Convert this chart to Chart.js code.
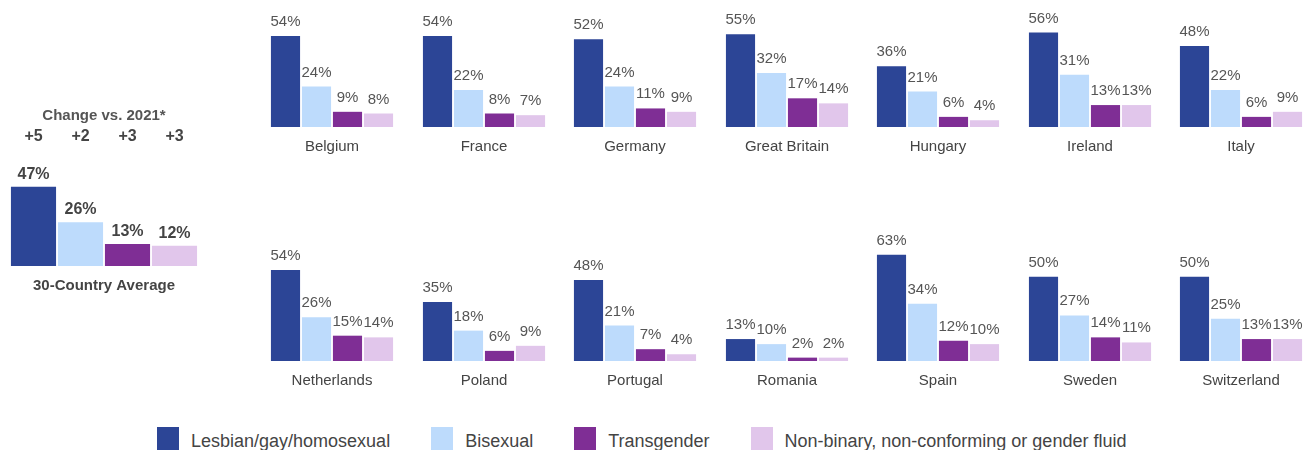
<!DOCTYPE html>
<html>
<head>
<meta charset="utf-8">
<script src="https://cdn.jsdelivr.net/npm/chart.js@4"></script>
<style>
  body { margin: 0; width: 1311px; height: 450px; overflow: hidden; background: #fff; font-family: "Liberation Sans", Arial, sans-serif; position: relative; }
  canvas { position: absolute; }
  #legend { position: absolute; top: 427px; left: 157px; display: flex; }
  .item { display: flex; margin-right: 41px; }
  .sw { width: 22px; height: 26px; margin-right: 12px; }
  .txt { font-size: 18px; color: #444; line-height: 24px; margin-top: 2px; white-space: nowrap; }
</style>
</head>
<body>
<div id="legend"></div>
<script>
// categorias y colores
const categories = ['Lesbian/gay/homosexual', 'Bisexual', 'Transgender', 'Non-binary, non-conforming or gender fluid'];
const colors = ['#2C4596', '#BDDBFC', '#7F2E95', '#E1C6EB'];

// promedio 30 paises
const avgLabel = '30-Country Average';
const avgValues = [47, 26, 13, 12];
const avgChanges = ['+5', '+2', '+3', '+3'];

// paises (dos filas)
const row1Names = ['Belgium', 'France', 'Germany', 'Great Britain', 'Hungary', 'Ireland', 'Italy'];
const row1Values = [
  [54, 24, 9, 8],
  [54, 22, 8, 7],
  [52, 24, 11, 9],
  [55, 32, 17, 14],
  [36, 21, 6, 4],
  [56, 31, 13, 13],
  [48, 22, 6, 9]
];
const row2Names = ['Netherlands', 'Poland', 'Portugal', 'Romania', 'Spain', 'Sweden', 'Switzerland'];
const row2Values = [
  [54, 26, 15, 14],
  [35, 18, 6, 9],
  [48, 21, 7, 4],
  [13, 10, 2, 2],
  [63, 34, 12, 10],
  [50, 27, 14, 11],
  [50, 25, 13, 13]
];

const FONT = '"Liberation Sans", Arial, sans-serif';
const YMAX = 80;
const PLOT_H = 135;

// etiquetas encima de las barras
const valueLabels = {
  id: 'valueLabels',
  afterDatasetsDraw(chart, args, opts) {
    const c = chart.ctx;
    const meta = chart.getDatasetMeta(0);
    c.save();
    c.font = opts.font;
    c.fillStyle = opts.color;
    c.textAlign = 'center';
    c.textBaseline = 'alphabetic';
    meta.data.forEach((bar, i) => {
      c.fillText(chart.data.datasets[0].data[i] + '%', bar.x, bar.y - opts.gap);
    });
    if (opts.changes) {
      c.font = 'bold 16px ' + FONT;
      meta.data.forEach((bar, i) => {
        c.fillText(opts.changes[i], bar.x, chart.chartArea.top + 10);
      });
    }
    c.restore();
  }
};

function makePanel(left, top, width, values, name, big) {
  const cv = document.createElement('canvas');
  const height = PLOT_H + 33 + (big ? 28 : 0);
  cv.width = width; cv.height = height;
  cv.style.left = left + 'px';
  cv.style.top = top + 'px';
  document.body.appendChild(cv);
  new Chart(cv, {
    type: 'bar',
    data: {
      labels: categories,
      datasets: [{
        data: values,
        backgroundColor: colors,
        categoryPercentage: 1,
        barPercentage: big ? 0.96 : 0.94
      }]
    },
    options: {
      responsive: false,
      animation: false,
      events: [],
      layout: { padding: 0 },
      scales: {
        x: { display: false },
        y: { display: false, min: 0, max: YMAX }
      },
      plugins: {
        legend: { display: false },
        tooltip: { enabled: false },
        title: big ? {
          display: true, position: 'top', text: 'Change vs. 2021*', color: '#555',
          font: { family: FONT, size: 15, weight: 'bold' }, padding: { top: 4, bottom: 6 }
        } : {
          display: true, position: 'bottom', text: name, color: '#444',
          font: { family: FONT, size: 15, weight: 'normal' }, padding: { top: 11, bottom: 4 }
        },
        subtitle: big ? {
          display: true, position: 'bottom', text: name, color: '#444',
          font: { family: FONT, size: 15, weight: 'bold' }, padding: { top: 11, bottom: 4 }
        } : { display: false },
        valueLabels: big
          ? { font: 'bold 16px ' + FONT, color: '#444', gap: 8, changes: avgChanges }
          : { font: '15px ' + FONT, color: '#555', gap: 10 }
      }
    },
    plugins: [valueLabels]
  });
}

// panel del promedio
makePanel(10, 266 - PLOT_H - 28, 188, avgValues, avgLabel, true);

// filas de paises
row1Names.forEach((n, i) => makePanel(270 + i * 151.5, 127 - PLOT_H, 124, row1Values[i], n, false));
row2Names.forEach((n, i) => makePanel(270 + i * 151.5, 361 - PLOT_H, 124, row2Values[i], n, false));

// leyenda
const legend = document.getElementById('legend');
categories.forEach((cat, i) => {
  const item = document.createElement('div');
  item.className = 'item';
  item.innerHTML = '<div class="sw" style="background:' + colors[i] + '"></div><div class="txt">' + cat + '</div>';
  legend.appendChild(item);
});
</script>
</body>
</html>
